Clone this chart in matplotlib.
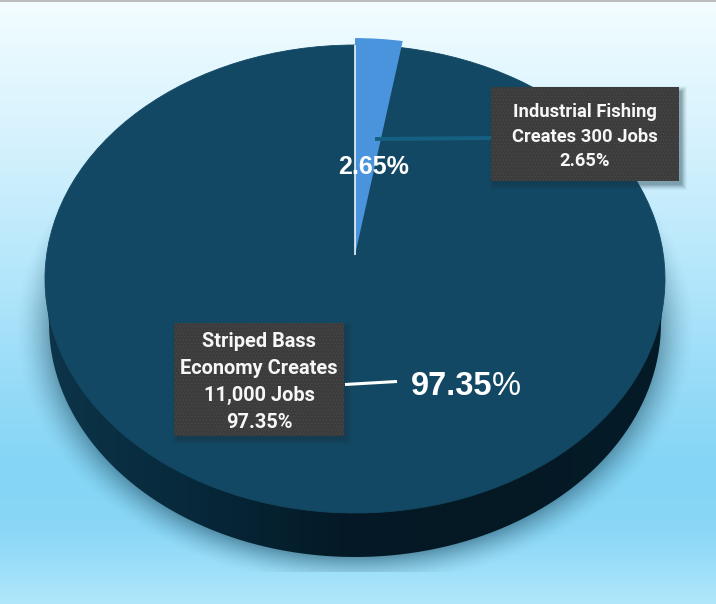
import numpy as np
import matplotlib
matplotlib.use("Agg")
import matplotlib.pyplot as plt
from matplotlib.colors import to_rgb
from matplotlib.patches import Rectangle, PathPatch
from matplotlib.path import Path

# data
labels = ["Industrial Fishing\nCreates 300 Jobs", "Striped Bass\nEconomy Creates\n11,000 Jobs"]
jobs = [300, 11000]
shares = [2.65, 97.35]

W, H = 716, 604
cx, cy = 355, 279      # centre of top face, px
rx, ry = 310, 234
depth = 44

dark = "#124863"
light = "#4a94de"

plt.rcParams["hatch.linewidth"] = 0.4
fig = plt.figure(figsize=(W / 100, H / 100), dpi=100)

# background + shadow + pie side, in pixel coords
bg = fig.add_axes([0, 0, 1, 1])
bg.set_xlim(0, W)
bg.set_ylim(H, 0)
bg.axis("off")

stops_y = [0, 40, 150, 270, 400, 470, 530, 572, 604]
stops_c = ["#f4fdff", "#eafaff", "#d3f1fd", "#b5e7fb", "#93daf7", "#84d5f6", "#8ad7f7", "#9fe0f9", "#b0e7fb"]
yy = np.arange(H) + 0.5
rgb = np.array([to_rgb(c) for c in stops_c])
grad = np.stack([np.interp(yy, stops_y, rgb[:, i]) for i in range(3)], axis=1)[:, None, :]
bg.imshow(grad, extent=(0, W, H, 0), aspect="auto", zorder=0)
bg.add_patch(Rectangle((0, 0), W, 2, fc="#bcbcbc", ec="none", zorder=1))

# soft shadow under the pie, cut off at the chart area
X, Y = np.meshgrid(np.arange(W) + 0.5, yy)
d = np.sqrt(((X - cx) / (rx - 4)) ** 2 + ((Y - cy - depth - 6) / (ry - 2)) ** 2)
soft = np.clip((1.11 - d) / 0.13, 0, 1) ** 1.6 * 0.6
soft[Y > 572] = 0
shadow = np.zeros((H, W, 4))
shadow[..., :3] = to_rgb("#2a5a70")
shadow[..., 3] = soft
bg.imshow(shadow, extent=(0, W, H, 0), aspect="auto", zorder=2)

# pie side with horizontal shading
side_x = [0, 60, 200, 340, 500, 716]
side_c = ["#0c3348", "#0c3348", "#07283a", "#041a26", "#041924", "#051c29"]
side_rgb = np.array([to_rgb(c) for c in side_c])
xx = np.arange(W) + 0.5
side = np.stack([np.interp(xx, side_x, side_rgb[:, i]) for i in range(3)], axis=1)[None, :, :]
im = bg.imshow(side, extent=(0, W, H, 0), aspect="auto", zorder=3)
t = np.linspace(0, np.pi, 200)
verts = np.column_stack([cx + (rx - 4) * np.cos(t), cy + depth + ry * np.sin(t)])
verts = np.vstack([[cx + rx, cy], verts, [cx - rx, cy], [cx + rx, cy]])
clip = PathPatch(Path(verts), transform=bg.transData, fc="none", ec="none")
bg.add_patch(clip)
im.set_clip_path(clip)
bg.set_xlim(0, W)
bg.set_ylim(H, 0)

# top face, wedges stretched to an ellipse through the axes limits
pie_ax = fig.add_axes([0, 0, 1, 1], zorder=2)
pie_ax.patch.set_alpha(0)
pie_ax.pie(jobs, colors=[dark, dark], startangle=90, counterclock=False, radius=1,
           wedgeprops={"linewidth": 0.6, "edgecolor": dark})
lift = 24 / ry
slice_r = 0.927
wedges, _ = pie_ax.pie(jobs, colors=[light, "none"], startangle=90, counterclock=False,
                       radius=slice_r, center=(0, lift), wedgeprops={"linewidth": 0})
wedges[1].set_visible(False)
pie_ax.set_aspect("auto")
pie_ax.set_xlim(-cx / rx, (W - cx) / rx)
pie_ax.set_ylim((cy - H) / ry, cy / ry)
pie_ax.axis("off")
# white edge on the left side of the slice
pie_ax.plot([0, 0], [lift, lift + slice_r - 0.03], color="#e8f2f8", lw=1.2, solid_capstyle="butt")

# labels in pixel coords
ov = fig.add_axes([0, 0, 1, 1], zorder=3)
ov.patch.set_alpha(0)
ov.set_xlim(0, W)
ov.set_ylim(H, 0)
ov.axis("off")

ov.plot([375, 491], [139, 138], color="#156082", lw=2.8, solid_capstyle="butt")
ov.plot([345, 397], [384.5, 381.5], color="white", lw=2.2, solid_capstyle="butt")

boxes = [(491, 87, 188, 94), (174, 323, 170, 113)]
label_sizes = [13.2, 14.4]
label_spacing = [1.46, 1.55]
for (bx, by, bw, bh), lab, sh, fs, ls in zip(boxes, labels, shares, label_sizes, label_spacing):
    # box shadow
    for grow, a in zip([5, 4, 3, 2, 1, 0], [0.04, 0.05, 0.07, 0.09, 0.11, 0.13]):
        ov.add_patch(Rectangle((bx + 3 - grow, by + 4 - grow), bw + 2 * grow, bh + 2 * grow,
                               fc="#123040", ec="none", alpha=a))
    ov.add_patch(Rectangle((bx, by), bw, bh, fc="#3c3c3c", ec="none"))
    ov.add_patch(Rectangle((bx, by), bw, bh, fc="none", ec="#4c4c4c", hatch=".....", lw=0))
    ov.text(bx + bw / 2, by + bh / 2 + 2.5, f"{lab}\n{sh:.2f}%", color="#f7f7f7", fontsize=fs,
            fontweight="bold", family="Roboto", ha="center", va="center", linespacing=ls)

# values on the pie
ov.text(373.5, 167.5, f"{shares[0]:.2f}%", color="white", fontsize=18, fontweight="bold",
        family="Liberation Sans", ha="center", va="center")
num = ov.text(410.5, 386.5, f"{shares[1]:.2f}", color="white", fontsize=23.5, fontweight="bold",
              family="Liberation Sans", ha="left", va="center")
fig.canvas.draw()
box = num.get_window_extent()
ov.text(box.x1, 386.5, "%", color="white", fontsize=23.5, family="Liberation Sans", ha="left", va="center")

fig.savefig("out.png", dpi=100)
